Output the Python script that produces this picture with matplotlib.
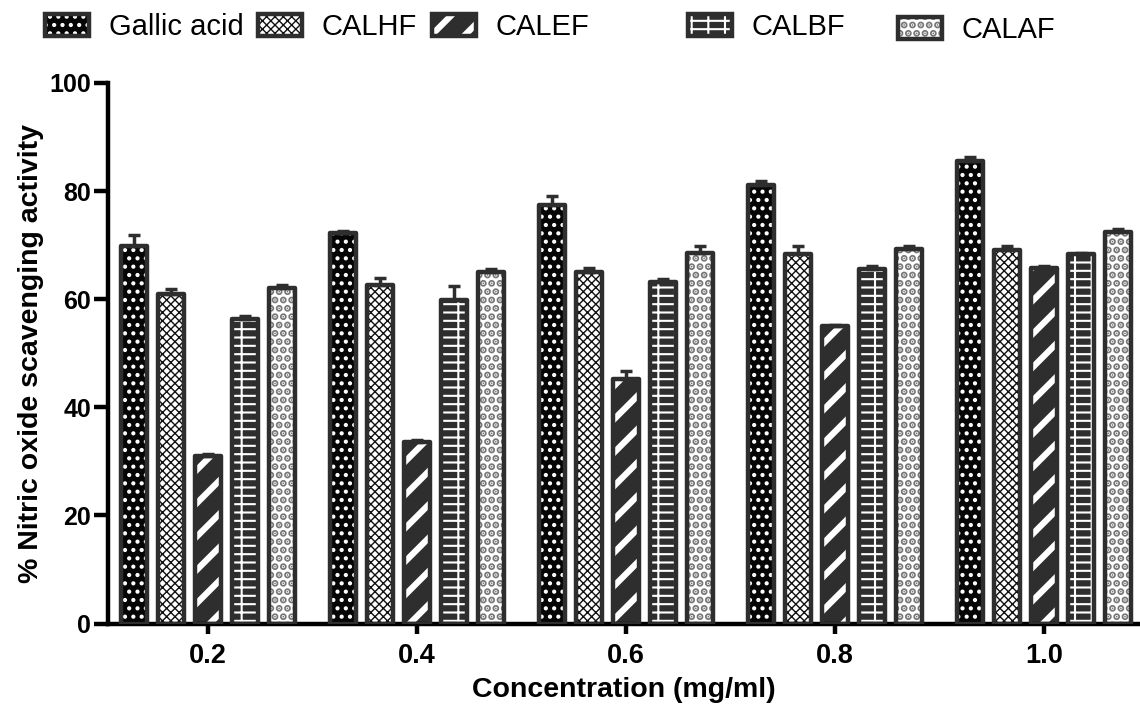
import numpy as np
import matplotlib
matplotlib.use('Agg')
import matplotlib.pyplot as plt
from matplotlib.patches import Rectangle

plt.rcParams['font.family'] = ['Liberation Sans', 'DejaVu Sans']

conc = [0.2, 0.4, 0.6, 0.8, 1.0]
conc_labels = ['0.2', '0.4', '0.6', '0.8', '1.0']
series = ['Gallic acid', 'CALHF', 'CALEF', 'CALBF', 'CALAF']

gallic = [69.8, 72.2, 77.5, 81.2, 85.6]
gallic_err = [2.0, 0.5, 1.6, 0.6, 0.8]
calhf = [61.0, 62.6, 65.0, 68.4, 69.1]
calhf_err = [0.8, 1.3, 0.8, 1.4, 0.8]
calef = [30.9, 33.6, 45.3, 55.0, 65.8]
calef_err = [0.5, 0.4, 1.4, 0.3, 0.3]
calbf = [56.4, 59.8, 63.2, 65.6, 68.3]
calbf_err = [0.5, 2.6, 0.6, 0.5, 0.3]
calaf = [62.0, 65.0, 68.6, 69.3, 72.4]
calaf_err = [0.6, 0.6, 1.3, 0.5, 0.5]

values = [gallic, calhf, calef, calbf, calaf]
errors = [gallic_err, calhf_err, calef_err, calbf_err, calaf_err]

# face colour, hatch, hatch colour, hatch linewidth
styles = [
    ('#050505', '..', 'white', 1.8),
    ('white', 'xxxx', '#111111', 1.0),
    ('#2e2e2e', '/', 'white', 4.5),
    ('#2e2e2e', '--|', 'white', 1.5),
    ('white', '..', '#777777', 3.6),
]
edge = '#2e2e2e'

# legend spots in figure pixels (irregular in the original)
legend_xy = [(45, 27), (258, 27), (432, 27), (688, 27), (898, 30)]


def hatch_width(artist, lw):
    if hasattr(artist, 'set_hatch_linewidth'):
        artist.set_hatch_linewidth(lw)


W, H = 1140, 720
fig = plt.figure(figsize=(W / 100, H / 100), dpi=100)
ax = fig.add_axes([108 / W, 1 - 623.5 / H, 1 - 108 / W, (623.5 - 83) / H])

pitch = 0.0354
width = 0.0245
handles = []
for i in range(len(series)):
    face, hatch, hc, hlw = styles[i]
    x = np.array(conc) + (i - 2) * pitch
    with plt.rc_context({'hatch.linewidth': hlw}):
        under = ax.bar(x, values[i], width, color=face, edgecolor=hc,
                       linewidth=0, hatch=hatch, zorder=2)
    for p in under:
        hatch_width(p, hlw)
    over = ax.bar(x, values[i], width, facecolor='none', edgecolor=edge,
                  linewidth=3.2, zorder=3)
    for p in over:
        p.set_joinstyle('round')
    ax.errorbar(x, values[i], yerr=[np.zeros(len(conc)), errors[i]], fmt='none',
                ecolor=edge, elinewidth=2.5, capsize=4.5, capthick=2.5, zorder=4)
    handles.append((under[0], over[0]))

ax.set_xlim(0.1043, 1.092)
ax.set_ylim(0, 100)
ax.set_yticks([0, 20, 40, 60, 80, 100])
ax.set_xticks(conc)
ax.set_xticklabels(conc_labels)
for s in ['top', 'right']:
    ax.spines[s].set_visible(False)
for s in ['left', 'bottom']:
    ax.spines[s].set_linewidth(3.2)
ax.tick_params(axis='y', width=3.2, length=10, labelsize=18, pad=2)
ax.tick_params(axis='x', width=3.2, length=7, labelsize=19.5, pad=7)
for lab in ax.get_xticklabels() + ax.get_yticklabels():
    lab.set_fontweight('bold')

ax.set_ylabel('% Nitric oxide scavenging activity', fontsize=20.5,
              fontweight='bold')
ax.yaxis.set_label_coords(-0.062, 0.5)
ax.set_xlabel('Concentration (mg/ml)', fontsize=20.5, fontweight='bold')
ax.xaxis.set_label_coords(0.5, -0.099)

for h, name, st, (px, py) in zip(handles, series, styles, legend_xy):
    with plt.rc_context({'hatch.linewidth': st[3]}):
        leg = fig.legend([h], [name], loc='center left',
                         bbox_to_anchor=(px / W, 1 - py / H), frameon=False,
                         fontsize=21, handlelength=1.5, handleheight=0.79,
                         handletextpad=0.68, borderpad=0, borderaxespad=0)
    for r in leg.findobj(Rectangle):
        if r.get_hatch():
            hatch_width(r, st[3])

fig.savefig('out.png', dpi=100)
